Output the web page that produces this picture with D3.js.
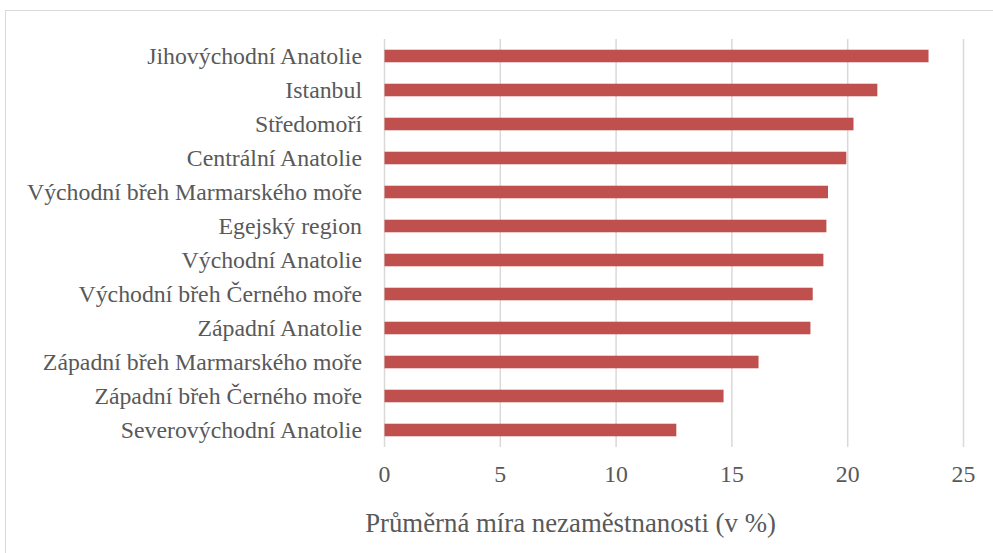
<!DOCTYPE html>
<html><head><meta charset="utf-8">
<script src="https://cdn.jsdelivr.net/npm/d3@7"></script>
<style>html,body{margin:0;padding:0;background:#fff;}svg{display:block;}</style>
</head><body>
<script>
const categories = ["Jihovýchodní Anatolie","Istanbul","Středomoří","Centrální Anatolie","Východní břeh Marmarského moře","Egejský region","Východní Anatolie","Východní břeh Černého moře","Západní Anatolie","Západní břeh Marmarského moře","Západní břeh Černého moře","Severovýchodní Anatolie"];
const values = [23.49, 21.28, 20.25, 19.94, 19.15, 19.08, 18.95, 18.49, 18.39, 16.15, 14.64, 12.60];
const xTicks = [0, 5, 10, 15, 20, 25];
const axisTitle = "Průměrná míra nezaměstnanosti (v %)";

(function () {
const W = 993, H = 553;
const svg = d3.select("body").append("svg").attr("width", W).attr("height", H);
svg.append("rect").attr("x", 5.5).attr("y", 10.5).attr("width", W + 20).attr("height", H + 20)
  .attr("fill", "#fff").attr("stroke", "#d9d9d9").attr("stroke-width", 1);

const pLeft = 384.5, pRight = 963.5, pTop = 39, pBottom = 447;
const x = d3.scaleLinear().domain([0, 25]).range([pLeft, pRight]);
const y = d3.scaleBand().domain(categories).range([pTop, pBottom]).paddingInner(0.63).paddingOuter(0.315);

const font = "Liberation Serif";

function sizeFor(str, targetWidth) {
  const t = svg.append("text").style("font-family", font).style("font-size", "20px").text(str);
  const len = t.node().getComputedTextLength();
  t.remove();
  return 20 * targetWidth / len;
}
const labelSize = sizeFor(categories[0], 215);
const titleSize = sizeFor(axisTitle, 411);

svg.append("g").selectAll("line").data(xTicks).join("line")
  .attr("x1", d => x(d)).attr("x2", d => x(d)).attr("y1", pTop).attr("y2", pBottom)
  .attr("stroke", "#d9d9d9").attr("stroke-width", 1.5);

svg.append("g").selectAll("rect").data(values).join("rect")
  .attr("x", x(0)).attr("y", (d, i) => y(categories[i]))
  .attr("width", d => x(d) - x(0)).attr("height", y.bandwidth())
  .attr("fill", "#c0504d");

svg.append("g").selectAll("text").data(categories).join("text")
  .attr("x", 362).attr("y", d => y(d) + y.bandwidth() / 2).attr("dy", "0.33em")
  .attr("text-anchor", "end").style("font-family", font).style("font-size", labelSize + "px")
  .attr("fill", "#595959").text(d => d);

svg.append("g").selectAll("text").data(xTicks).join("text")
  .attr("x", d => x(d)).attr("y", 474).attr("dy", "0.33em")
  .attr("text-anchor", "middle").style("font-family", font).style("font-size", labelSize + "px")
  .attr("fill", "#595959").text(d => d);

svg.append("text").attr("x", 570.5).attr("y", 523).attr("dy", "0.33em")
  .attr("text-anchor", "middle").style("font-family", font).style("font-size", titleSize + "px")
  .attr("fill", "#595959").text(axisTitle);
})();
</script>
</body></html>
